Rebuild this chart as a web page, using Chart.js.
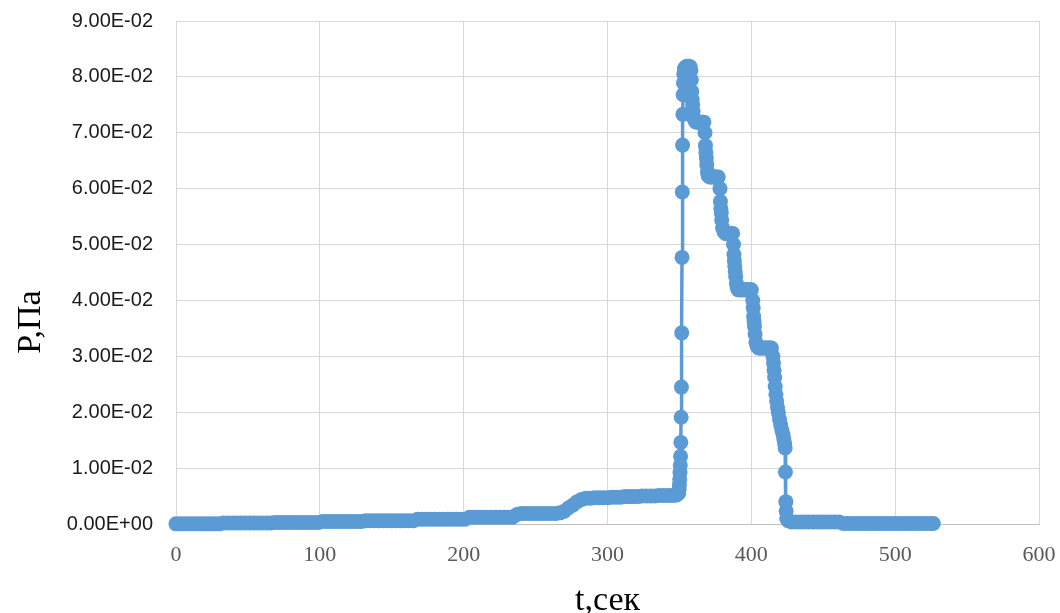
<!DOCTYPE html>
<html>
<head>
<meta charset="utf-8">
<title>P(t)</title>
<script src="https://cdn.jsdelivr.net/npm/chart.js@4.4.1/dist/chart.umd.min.js"></script>
<style>
  body { margin: 0; background: #fff; }
  canvas { display: block; }
</style>
</head>
<body>
<canvas id="pressureChart" width="1060" height="613"></canvas>
<script>
// time, s
var timeSec = [
  0, 3, 6, 9, 12, 15, 18, 21, 24, 27, 30,
  33, 36, 39, 42, 45, 48, 51, 54, 57, 60, 63, 66,
  69, 72, 75, 78, 81, 84, 87, 90, 93, 96, 99,
  102, 105, 108, 111, 114, 117, 120, 123, 126, 129,
  132, 135, 138, 141, 144, 147, 150, 153, 156, 159, 162, 165,
  168, 171, 174, 177, 180, 183, 186, 189, 192, 195, 198, 201,
  204, 207, 210, 213, 216, 219, 222, 225, 228, 231, 234,
  237, 240, 243, 246, 249, 252, 255, 258, 261, 264,
  267, 270, 273, 276, 279, 282, 285, 288, 291, 294, 297, 300,
  303, 306, 309, 312, 315, 318, 321, 324, 327, 330, 333, 336, 339, 342, 345, 347, 348,
  349.5, 349.8, 350.0, 350.2, 350.4, 350.6, 350.8, 351.0, 351.2, 351.4, 351.6, 351.8, 352.0, 352.2, 352.4, 352.6, 352.8, 353.0,
  353.5, 354.5, 355.5, 356.5, 357.5, 358.0, 358.3, 358.6, 358.9, 359.2, 359.5, 360.0,
  361, 362, 363, 364, 365, 366, 367, 367.8, 368.1, 368.4, 368.7, 369.0, 369.5, 370.0,
  371, 372, 373, 374, 375, 376, 377, 378.2, 378.5, 378.8, 379.1, 379.4, 380, 381,
  382, 383, 384, 385, 386, 387, 387.6, 387.9, 388.2, 388.5, 388.8, 389.1, 389.6, 390.3,
  391, 392, 393, 394, 395, 396, 397, 398, 399, 400,
  401.0, 401.3, 401.6, 401.9, 402.2, 402.6, 403.2, 404,
  405, 406, 407, 408, 409, 410, 411, 412, 413, 414,
  415.0, 415.4, 415.8, 416.2, 416.6, 417.1, 417.6, 418.2, 418.8, 419.6, 420.4, 421.2, 422.0, 422.6, 423.1, 423.5,
  423.7, 424.0, 424.2, 424.6, 425.5,
  428, 431, 434, 437, 440, 443, 446, 449, 452, 455, 458, 461,
  464, 467, 470, 473, 476, 479, 482, 485, 488, 491, 494, 497, 500, 503, 506, 509, 512, 515, 518, 521, 524, 526.5
];

// pressure, Pa
var pressurePa = [
  0.00003, 0.00003, 0.00003, 0.00003, 0.00003, 0.00003, 0.00003, 0.00003, 0.00003, 0.00003, 0.00003,
  0.00018, 0.00018, 0.00018, 0.00018, 0.00018, 0.00018, 0.00018, 0.00018, 0.00018, 0.00018, 0.00018, 0.00018,
  0.00026, 0.00026, 0.00026, 0.00026, 0.00026, 0.00026, 0.00026, 0.00026, 0.00026, 0.00026, 0.00026,
  0.00045, 0.00045, 0.00045, 0.00045, 0.00045, 0.00045, 0.00045, 0.00045, 0.00045, 0.00045,
  0.0006, 0.0006, 0.0006, 0.0006, 0.0006, 0.0006, 0.0006, 0.0006, 0.0006, 0.0006, 0.0006, 0.0006,
  0.00085, 0.00085, 0.00085, 0.00085, 0.00085, 0.00085, 0.00085, 0.00085, 0.00085, 0.00085, 0.00085, 0.00085,
  0.0012, 0.0012, 0.0012, 0.0012, 0.0012, 0.0012, 0.0012, 0.0012, 0.0012, 0.0012, 0.0012,
  0.0017, 0.0019, 0.0019, 0.0019, 0.0019, 0.0019, 0.0019, 0.0019, 0.0019, 0.0019,
  0.0020, 0.0023, 0.0029, 0.0034, 0.0040, 0.0044, 0.0046, 0.0046, 0.0047, 0.0047, 0.0047, 0.0047,
  0.0048, 0.0048, 0.0048, 0.0049, 0.0049, 0.0049, 0.0049, 0.0050, 0.0050, 0.0050, 0.0050, 0.0051, 0.0051, 0.0051, 0.0051, 0.0052, 0.0052,
  0.0055, 0.0062, 0.0070, 0.0080, 0.0092, 0.0105, 0.0121, 0.0146, 0.0191, 0.0245, 0.0342, 0.0477, 0.0594, 0.0678, 0.0733, 0.0768, 0.0789, 0.0805,
  0.0815, 0.0818, 0.0819, 0.0819, 0.0818, 0.0812, 0.0795, 0.0774, 0.0760, 0.0750, 0.0738, 0.0726,
  0.0720, 0.0719, 0.0719, 0.0719, 0.0719, 0.0719, 0.0719, 0.0700, 0.0677, 0.0665, 0.0655, 0.0643, 0.0630, 0.0623,
  0.0621, 0.0621, 0.0621, 0.0621, 0.0621, 0.0621, 0.0621, 0.0600, 0.0577, 0.0565, 0.0557, 0.0544, 0.0530, 0.0523,
  0.0520, 0.0520, 0.0520, 0.0520, 0.0520, 0.0520, 0.0500, 0.0482, 0.0471, 0.0461, 0.0452, 0.0443, 0.0430, 0.0422,
  0.0419, 0.0419, 0.0419, 0.0419, 0.0419, 0.0419, 0.0419, 0.0419, 0.0419, 0.0419,
  0.0400, 0.0387, 0.0371, 0.0362, 0.0354, 0.0340, 0.0325, 0.0318,
  0.0315, 0.0315, 0.0315, 0.0315, 0.0315, 0.0315, 0.0315, 0.0315, 0.0315, 0.0315,
  0.0300, 0.0288, 0.0275, 0.0262, 0.0246, 0.0232, 0.0220, 0.0209, 0.0199, 0.0187, 0.0177, 0.0168, 0.0160, 0.0152, 0.0144, 0.0136,
  0.0093, 0.0040, 0.0023, 0.0010, 0.0006,
  0.00035, 0.00035, 0.00035, 0.00035, 0.00035, 0.00035, 0.00035, 0.00035, 0.00035, 0.00035, 0.00035, 0.00035,
  0.0001, 0.0001, 0.0001, 0.0001, 0.0001, 0.0001, 0.0001, 0.0001, 0.0001, 0.0001, 0.0001,
  0.0001, 0.0001, 0.0001, 0.0001, 0.0001, 0.0001, 0.0001, 0.0001, 0.0001, 0.0001, 0.0001
];

var xTickLabels = ["0", "100", "200", "300", "400", "500", "600"];
var yTickLabels = ["0.00E+00", "1.00E-02", "2.00E-02", "3.00E-02", "4.00E-02",
                   "5.00E-02", "6.00E-02", "7.00E-02", "8.00E-02", "9.00E-02"];
var xTitle = "t,сек";
var yTitle = "P,Па";

var points = timeSec.map(function (t, i) { return { x: t, y: pressurePa[i] }; });

// axis titles drawn by hand, the P one sits lower than centre
var axisTitles = {
  id: 'axisTitles',
  afterDraw: function (chart) {
    var ctx = chart.ctx;
    var area = chart.chartArea;
    ctx.save();
    ctx.fillStyle = '#000';
    ctx.font = '34px "Liberation Serif"';
    ctx.textAlign = 'center';
    ctx.textBaseline = 'alphabetic';
    ctx.fillText(xTitle, (area.left + area.right) / 2, 610);
    ctx.translate(40, 322);
    ctx.rotate(-Math.PI / 2);
    ctx.fillText(yTitle, 0, 0);
    ctx.restore();
  }
};

// fixed axis sizes, no extra room for overhanging tick labels
function fixX(s) {
  s.height = 89;
  s.paddingLeft = 0; s.paddingRight = 0; s.paddingTop = 0; s.paddingBottom = 0;
}
function fixY(s) {
  s.width = 176;
  s.paddingLeft = 0; s.paddingRight = 0; s.paddingTop = 0; s.paddingBottom = 0;
}

new Chart("pressureChart", {
  type: 'scatter',
  data: {
    datasets: [{
      data: points,
      showLine: true,
      borderColor: '#5b9bd5',
      backgroundColor: '#5b9bd5',
      borderWidth: 3.5,
      pointRadius: 7.5,
      pointHoverRadius: 7.5,
      pointBorderWidth: 0,
      clip: false
    }]
  },
  options: {
    responsive: false,
    animation: false,
    layout: { padding: { top: 21, right: 21, left: 0, bottom: 0 } },
    plugins: {
      legend: { display: false },
      tooltip: { enabled: false }
    },
    scales: {
      x: {
        type: 'linear',
        min: 0,
        max: 600,
        ticks: {
          stepSize: 100,
          padding: 18,
          color: '#595959',
          font: { family: 'Liberation Serif', size: 22 },
          callback: function (v, i) { return xTickLabels[i]; }
        },
        grid: { color: '#d9d9d9', drawTicks: false },
        border: { color: '#bfbfbf' },
        afterFit: fixX
      },
      y: {
        min: 0,
        max: 0.09,
        ticks: {
          stepSize: 0.01,
          padding: 23,
          color: '#1a1a1a',
          font: { family: 'Liberation Sans', size: 20 },
          callback: function (v, i) { return yTickLabels[i]; }
        },
        grid: { color: '#d9d9d9', drawTicks: false },
        border: { color: '#d9d9d9' },
        afterFit: fixY
      }
    }
  },
  plugins: [axisTitles]
});
</script>
</body>
</html>
